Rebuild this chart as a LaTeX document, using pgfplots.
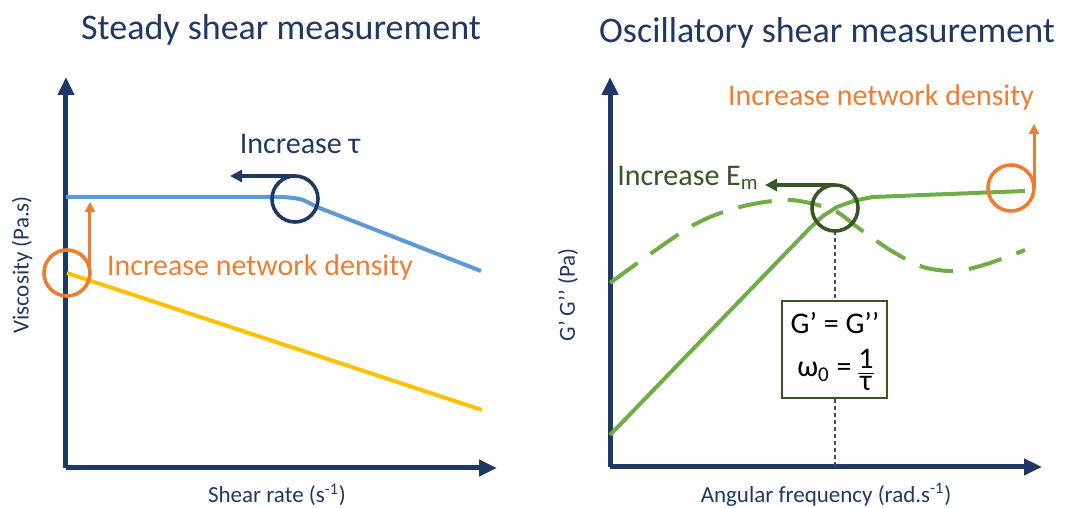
\documentclass[border=0pt]{standalone}
\usepackage{pgfplots}
\pgfplotsset{compat=1.18}
\usepackage{fontspec}
\setmainfont{Carlito}
\usetikzlibrary{arrows.meta}
\definecolor{navy}{HTML}{1F3864}
\definecolor{lblue}{HTML}{5B9BD5}
\definecolor{yel}{HTML}{FFC000}
\definecolor{org}{HTML}{ED7D31}
\definecolor{grn}{HTML}{70AD47}
\definecolor{dgrn}{HTML}{375623}
\newcommand{\fs}[1]{\fontsize{#1}{#1}\selectfont}
\begin{document}
\begin{tikzpicture}
\useasboundingbox (0,0) rectangle (532.5pt,254pt);
\pgfplotsset{
  panel/.style={
    x=0.5pt, y=0.5pt, anchor=south west,
    axis lines=left, enlargelimits=false, clip=false,
    xtick=\empty, ytick=\empty,
    axis line style={navy, line width=2.5pt, -{Triangle[length=9pt,width=8pt]}},
  }
}
% ---------------- Left panel ----------------
\begin{axis}[panel, at={(33pt,20pt)}, xmin=66, xmax=497, ymin=40, ymax=431]
\addplot[lblue, line width=2pt, line join=round] coordinates {
 (66,311) (277,311) (287,310.7) (295,309.8) (302,308.3) (309,305.3) (317,301) (481,237)};
\addplot[yel, line width=2pt] coordinates {(67,235) (482,98)};
\draw[navy, line width=1.8pt] (axis cs:295,309) circle[radius=11.5pt];
\draw[navy, line width=2pt, -{Triangle[length=6pt,width=6pt]}] (axis cs:295,332) -- (axis cs:230,332);
\draw[org, line width=1.8pt] (axis cs:67,235) circle[radius=11.5pt];
\draw[org, line width=1.5pt, -{Triangle[length=5pt,width=5pt]}] (axis cs:90,235) -- (axis cs:90,306);
\node[navy, font=\fs{15pt}] at (axis cs:300,364) {Increase τ};
\node[org, font=\fs{15pt}] at (axis cs:260,240) {Increase network density};
\node[navy, font=\fs{18pt}] at (axis cs:281,478) {Steady shear measurement};
\node[navy, font=\fs{11.5pt}, rotate=90] at (axis cs:22,243) {Viscosity (Pa.s)};
\node[navy, font=\fs{11.5pt}] at (axis cs:277,13) {Shear rate (s\textsuperscript{-1})};
\end{axis}
% ---------------- Right panel ----------------
\begin{axis}[panel, at={(305pt,20.5pt)}, xmin=610, xmax=1042, ymin=41, ymax=431]
\draw[black!70, line width=0.8pt, dash pattern=on 2pt off 1.5pt] (axis cs:835,277) -- (axis cs:835,41);
\addplot[grn, line width=2pt, line join=round] coordinates {
 (610,73) (810,280) (823,292) (837,301) (855,307.5) (873,311) (1025,317)};
\addplot[grn, line width=2pt, smooth, dash pattern=on 17pt off 8pt] coordinates {
 (610,225) (690,281) (740,301) (790,308) (833,298) (857,281) (890,258) (923,241) (957,237) (990,245) (1025,258)};
\draw[dgrn, line width=1.8pt] (axis cs:835,300) circle[radius=11.5pt];
\draw[dgrn, line width=2pt, -{Triangle[length=6pt,width=6pt]}] (axis cs:835,323) -- (axis cs:765,323);
\draw[org, line width=1.8pt] (axis cs:1011,320) circle[radius=11.5pt];
\draw[org, line width=1.5pt, -{Triangle[length=5pt,width=5pt]}] (axis cs:1034,320) -- (axis cs:1034,384);
\filldraw[draw=dgrn, fill=white, line width=0.8pt] (axis cs:782,207) rectangle (axis cs:887,110);
\node[black, font=\fs{15pt}] at (axis cs:835,185) {G’ = G’’};
\node[black, font=\fs{15pt}, anchor=east, inner sep=0pt] at (axis cs:852,136) {ω\textsubscript{0} =};
\node[black, font=\fs{15pt}, inner sep=0pt] at (axis cs:866,138) {\ensuremath{\frac{\hbox{1}}{\hbox{τ}}}};
\node[dgrn, font=\fs{15pt}] at (axis cs:688,330) {Increase E\textsubscript{m}};
\node[org, font=\fs{15pt}] at (axis cs:881,410) {Increase network density};
\node[navy, font=\fs{18pt}] at (axis cs:827,475) {Oscillatory shear measurement};
\node[navy, font=\fs{11.5pt}, rotate=90] at (axis cs:568,213) {G’ G’’ (Pa)};
\node[navy, font=\fs{11.5pt}] at (axis cs:826,13) {Angular frequency (rad.s\textsuperscript{-1})};
\end{axis}
\end{tikzpicture}
\end{document}
